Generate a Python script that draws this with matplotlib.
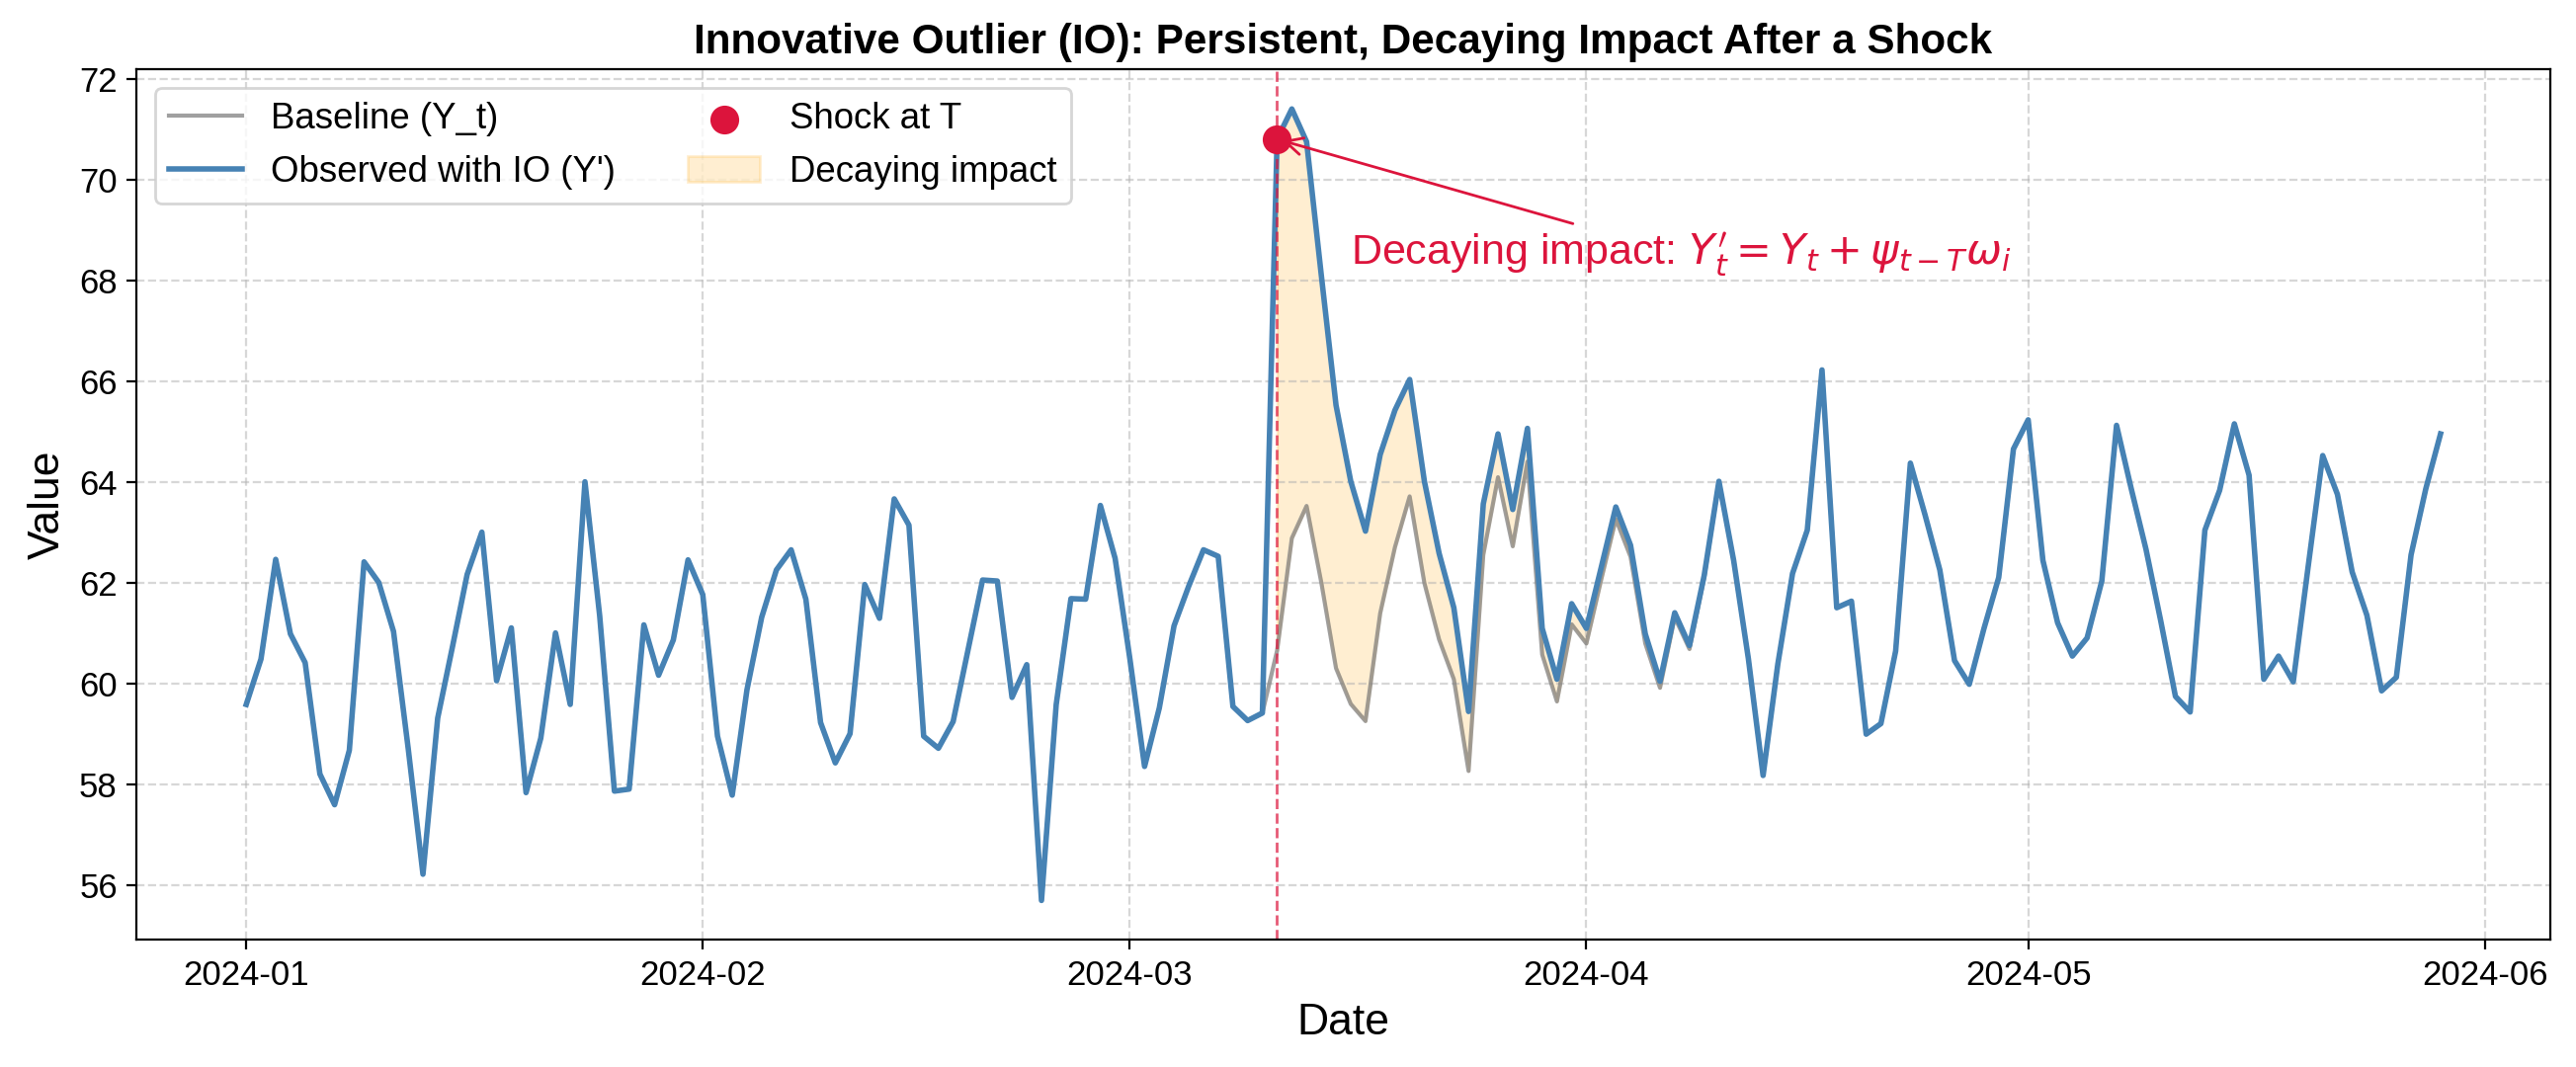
# -*- coding: UTF-8 -*-
import numpy as np
import pandas as pd
import matplotlib
matplotlib.use("Agg")
import matplotlib.pyplot as plt

out_path = "out.png"

# 日期：2024-01-01 起共 150 天
start_date = "2024-01-01"
n_days = 150
shock_index = 70  # 2024-03-11

# 基线序列 Y_t
baseline = [
    59.58, 60.48, 62.46, 60.98, 60.41, 58.20, 57.59, 58.67, 62.41, 62.00,
    61.03, 58.70, 56.21, 59.31, 60.72, 62.16, 63.00, 60.05, 61.10, 57.83,
    58.91, 61.00, 59.58, 64.00, 61.34, 57.86, 57.90, 61.16, 60.16, 60.86,
    62.45, 61.76, 58.95, 57.78, 59.87, 61.31, 62.25, 62.65, 61.67, 59.22,
    58.42, 59.00, 61.96, 61.29, 63.66, 63.14, 58.95, 58.71, 59.24, 60.65,
    62.05, 62.03, 59.72, 60.37, 55.69, 59.58, 61.68, 61.67, 63.53, 62.48,
    60.49, 58.35, 59.51, 61.14, 61.93, 62.65, 62.52, 59.54, 59.26, 59.41,
    60.65, 62.88, 63.52, 62.00, 60.30, 59.59, 59.25, 61.39, 62.70, 63.71,
    61.99, 60.87, 60.08, 58.26, 62.55, 64.09, 62.72, 64.40, 60.57, 59.64,
    61.17, 60.79, 62.05, 63.26, 62.51, 60.79, 59.91, 61.31, 60.68, 62.10,
    64.01, 62.44, 60.49, 58.17, 60.38, 62.18, 63.04, 66.22, 61.50, 61.63,
    58.99, 59.20, 60.64, 64.37, 63.34, 62.25, 60.45, 59.98, 61.09, 62.10,
    64.65, 65.23, 62.44, 61.20, 60.54, 60.90, 62.03, 65.12, 63.86, 62.66,
    61.24, 59.74, 59.43, 63.04, 63.83, 65.15, 64.13, 60.08, 60.54, 60.03,
    62.29, 64.52, 63.75, 62.21, 61.35, 59.85, 60.12, 62.55, 63.86, 64.95,
]

# 冲击之后的观测值 Y'（第 70 天到第 99 天，之后与基线几乎重合）
observed_after_shock = [
    70.80, 71.40, 70.75, 68.10, 65.52, 64.01, 63.02, 64.54, 65.42, 66.03,
    64.01, 62.58, 61.50, 59.44, 63.56, 64.95, 63.45, 65.06, 61.09, 60.08,
    61.58, 61.09, 62.29, 63.50, 62.74, 60.98, 60.04, 61.40, 60.75, 62.14,
]

"""
构造日期、基线和观测序列
"""
def get_series():
    dates = pd.date_range(start_date, periods=n_days, freq="D")
    y = np.array(baseline)
    y_obs = y.copy()
    y_obs[shock_index:shock_index + len(observed_after_shock)] = observed_after_shock
    return dates, y, y_obs

def main():
    plt.rcParams['font.family'] = ['Liberation Sans', 'DejaVu Sans']
    plt.rcParams['axes.unicode_minus'] = False

    dates, y, y_obs = get_series()
    shock_date = dates[shock_index]

    fig, ax = plt.subplots(figsize=(13.035, 5.4), dpi=200)
    fig.subplots_adjust(left=0.053, right=0.990, top=0.935, bottom=0.119)

    ax.plot(dates, y, color='gray', alpha=0.75, linewidth=1.5, label='Baseline (Y_t)')
    ax.plot(dates, y_obs, color='steelblue', linewidth=2, label="Observed with IO (Y')")
    ax.axvline(shock_date, color='crimson', linestyle='--', linewidth=1, alpha=0.7)
    ax.scatter([shock_date], [y_obs[shock_index]], color='crimson', s=90, zorder=5,
               label='Shock at T')
    ax.fill_between(dates[shock_index:], y[shock_index:], y_obs[shock_index:],
                    color='orange', alpha=0.18, label='Decaying impact')

    # 注释
    ax.annotate(r"Decaying impact: $Y^{\prime}_t = Y_t + \psi_{t-T}\omega_i$",
                xy=(shock_date, y_obs[shock_index]),
                xytext=(dates[shock_index + 5], y_obs[shock_index] - 2.5),
                color='crimson', fontsize=15.5,
                arrowprops=dict(arrowstyle='->', color='crimson', lw=1))

    ax.set_title("Innovative Outlier (IO): Persistent, Decaying Impact After a Shock",
                 fontsize=15.2, fontweight='bold')
    ax.set_xlabel("Date", fontsize=16)
    ax.set_ylabel("Value", fontsize=16)
    ax.tick_params(labelsize=12.5)
    ax.grid(True, linestyle='--', alpha=0.5)
    ax.legend(loc='upper left', ncol=2, fontsize=13.2)

    plt.savefig(out_path, dpi=200)

if __name__ == '__main__':
    main()
